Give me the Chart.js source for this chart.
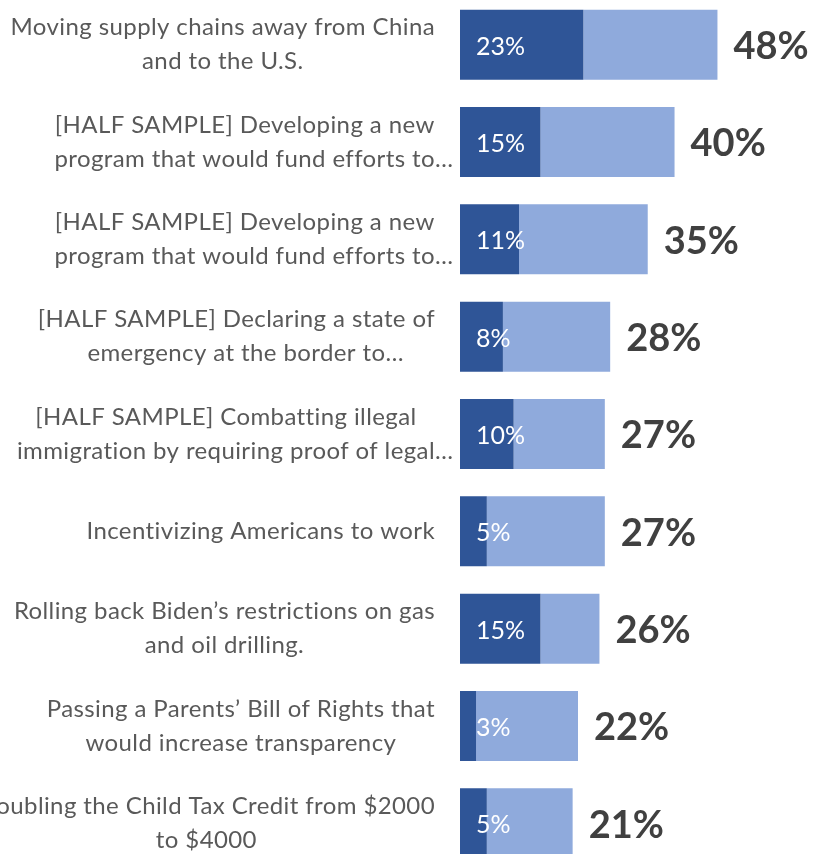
<!DOCTYPE html>
<html>
<head>
<meta charset="utf-8">
<script src="https://cdn.jsdelivr.net/npm/chart.js@4.4.1/dist/chart.umd.min.js"></script>
<style>
  html, body { margin: 0; padding: 0; background: #fff; overflow: hidden; }
  .wrap { position: absolute; left: 0; top: -4px; width: 816px; height: 876px; }
</style>
</head>
<body>
<div class="wrap"><canvas id="myChart"></canvas></div>
<script>
// data
const categories = [
  ["Moving supply chains away from China", "and to the U.S."],
  ["[HALF SAMPLE] Developing a new", "program that would fund efforts to…"],
  ["[HALF SAMPLE] Developing a new", "program that would fund efforts to…"],
  ["[HALF SAMPLE] Declaring a state of", "emergency at the border to…"],
  ["[HALF SAMPLE] Combatting illegal", "immigration by requiring proof of legal…"],
  ["Incentivizing Americans to work"],
  ["Rolling back Biden’s restrictions on gas", "and oil drilling."],
  ["Passing a Parents’ Bill of Rights that", "would increase transparency"],
  ["Doubling the Child Tax Credit from $2000", "to $4000"]
];
const strongly = [23, 15, 11, 8, 10, 5, 15, 3, 5];
const rest = [25, 25, 24, 20, 17, 22, 11, 19, 16];
const totals = [48, 40, 35, 28, 27, 27, 26, 22, 21];

const FONT = "Lato, 'Open Sans', sans-serif";

// labels on the left + values on bars
const labelPlugin = {
  id: 'labelPlugin',
  afterDatasetsDraw(chart) {
    const ctx = chart.ctx;
    const yScale = chart.scales.y;
    const left = chart.chartArea.left;
    ctx.save();
    ctx.textBaseline = 'middle';

    ctx.font = '24px ' + FONT;
    ctx.letterSpacing = '0.4px';
    ctx.fillStyle = '#595959';
    categories.forEach((lines, i) => {
      const cy = yScale.getPixelForValue(i);
      const bare = lines.map(l => l.replace(/…$/, ''));
      const w = Math.max(...bare.map(l => ctx.measureText(l).width));
      const cx = left - 25 - w / 2;
      lines.forEach((l, j) => {
        const ly = cy + (j - (lines.length - 1) / 2) * 34;
        ctx.textAlign = 'center';
        ctx.fillText(bare[j], cx, ly);
        if (l !== bare[j]) {
          ctx.textAlign = 'left';
          ctx.fillText('…', cx + ctx.measureText(bare[j]).width / 2, ly);
        }
      });
    });
    ctx.letterSpacing = '0px';

    const m0 = chart.getDatasetMeta(0);
    const m1 = chart.getDatasetMeta(1);
    m0.data.forEach((bar, i) => {
      ctx.textAlign = 'left';
      ctx.font = '25px ' + FONT;
      ctx.fillStyle = '#ffffff';
      ctx.fillText(strongly[i] + '%', bar.base + 16, bar.y + 2);

      const end = m1.data[i];
      ctx.font = 'bold 38px ' + FONT;
      ctx.fillStyle = '#404040';
      ctx.fillText(totals[i] + '%', end.x + 16, end.y + 2);
    });
    ctx.restore();
  }
};

const ctx = document.getElementById('myChart');

new Chart(ctx, {
  type: 'bar',
  data: {
    labels: categories.map(c => c.join(' ')),
    datasets: [{
      label: 'Strongly',
      data: strongly,
      backgroundColor: '#2F5597',
      borderWidth: 0
    }, {
      label: 'Total',
      data: rest,
      backgroundColor: '#8FAADC',
      borderWidth: 0
    }]
  },
  options: {
    indexAxis: 'y',
    responsive: true,
    maintainAspectRatio: false,
    animation: false,
    layout: {
      padding: { left: 460, right: 2, top: 0, bottom: 0 }
    },
    datasets: {
      bar: { categoryPercentage: 1, barPercentage: 0.72 }
    },
    scales: {
      x: { stacked: true, display: false, min: 0, max: 66 },
      y: { stacked: true, display: false }
    },
    plugins: {
      legend: { display: false },
      tooltip: { enabled: false }
    }
  },
  plugins: [labelPlugin]
});
</script>
</body>
</html>
